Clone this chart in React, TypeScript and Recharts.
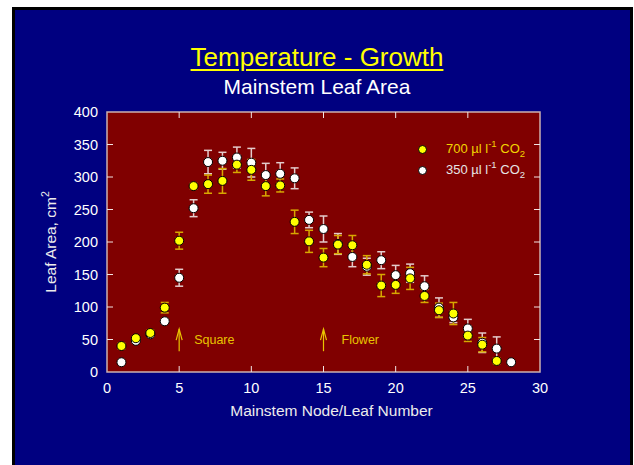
import React from 'react';
import {
  ScatterChart,
  Scatter,
  XAxis,
  YAxis,
  ErrorBar,
  ReferenceArea,
  ReferenceLine,
} from 'recharts';

// Mainstem node / leaf number
const nodes = [1, 2, 3, 4, 5, 6, 7, 8, 9, 10, 11, 12, 13, 14, 15, 16, 17, 18, 19, 20, 21, 22, 23, 24, 25, 26, 27, 28];

// Leaf area (cm²) and standard errors, 700 µl l-1 CO2
const area700 = [40, 52, 60, 99, 202, 286, 289, 294, 319, 311, 286, 287, 231, 201, 176, 196, 195, 165, 133, 134, 144, 117, 95, 90, 56, 42, 17];
const err700 = [4, 3, 4, 8, 13, 4, 14, 19, 12, 16, 15, 10, 18, 17, 14, 14, 15, 14, 17, 13, 17, 10, 11, 17, 9, 11, 4];

// Leaf area (cm²) and standard errors, 350 µl l-1 CO2
const area350 = [15, 48, 58, 78, 145, 252, 323, 325, 330, 322, 303, 305, 298, 234, 220, 197, 177, 162, 172, 149, 152, 132, 99, 84, 67, 45, 36, 15];
const err350 = [0, 3, 3, 3, 13, 13, 18, 13, 16, 22, 18, 17, 16, 12, 20, 16, 15, 13, 13, 15, 14, 16, 15, 8, 14, 15, 18, 0];

const xTicks = [0, 5, 10, 15, 20, 25, 30];
const yTicks = [0, 50, 100, 150, 200, 250, 300, 350, 400];

// Developmental stage markers
const stages = [
  { node: 5, label: 'Square', gap: 15 },
  { node: 15, label: 'Flower', gap: 18 },
];

const series = [
  { key: '350', name: '350 µl l', fill: '#ffffff', text: '#e6e6e6', errColor: '#e4cccc', values: area350, errs: err350 },
  { key: '700', name: '700 µl l', fill: '#ffff00', text: '#f2d400', errColor: '#d8a800', values: area700, errs: err700 },
];

const W = 634;
const H = 465;
const PLOT_LEFT = 107;
const PLOT_RIGHT = 540;
const PLOT_TOP = 112;
const PLOT_BOTTOM = 372;
const TICK_LEN = 6;
const FONT = '"Liberation Sans", Arial, Helvetica, sans-serif';
const TICK_COLOR = '#f0e4e4';
const GOLD = '#e8c400';

const XTick = ({ x, payload }: any) => {
  const v = payload.value;
  const inner = v > 0 && v < 30;
  return (
    <g>
      {inner && <line x1={x} x2={x} y1={PLOT_BOTTOM} y2={PLOT_BOTTOM - TICK_LEN} stroke={TICK_COLOR} />}
      {inner && <line x1={x} x2={x} y1={PLOT_TOP} y2={PLOT_TOP + TICK_LEN} stroke={TICK_COLOR} />}
      <text x={x} y={PLOT_BOTTOM + 21} textAnchor="middle" fill="#ffffff" fontSize={14.5} fontFamily={FONT}>
        {v}
      </text>
    </g>
  );
};

const YTick = ({ y, payload }: any) => {
  const v = payload.value;
  const inner = v > 0 && v < 400;
  return (
    <g>
      {inner && <line x1={PLOT_LEFT} x2={PLOT_LEFT + TICK_LEN} y1={y} y2={y} stroke={TICK_COLOR} />}
      {inner && <line x1={PLOT_RIGHT} x2={PLOT_RIGHT - TICK_LEN} y1={y} y2={y} stroke={TICK_COLOR} />}
      <text x={PLOT_LEFT - 9} y={y + 5} textAnchor="end" fill="#ffffff" fontSize={14.5} fontFamily={FONT}>
        {v}
      </text>
    </g>
  );
};

const dotShape = (fill: string) => (p: any) => (
  <circle cx={p.cx} cy={p.cy} r={4.5} fill={fill} stroke="#000000" strokeWidth={1} />
);

const stageArrow = (label: string, gap: number) => (p: any) => {
  const x = p.x1;
  const top = Math.min(p.y1, p.y2);
  const bottom = Math.max(p.y1, p.y2);
  return (
    <g>
      <line x1={x} x2={x} y1={bottom} y2={top} stroke={GOLD} strokeWidth={1.2} />
      <path d={`M${x - 3} ${top + 11} L${x} ${top} L${x + 3} ${top + 11}`} fill="none" stroke={GOLD} strokeWidth={1.2} />
      <text x={x + gap} y={(top + bottom) / 2 + 4} fill={GOLD} fontSize={12.5} fontFamily={FONT}>
        {label}
      </text>
    </g>
  );
};

const YLabel = () => (
  <text
    transform={`translate(56, ${(PLOT_TOP + PLOT_BOTTOM) / 2}) rotate(-90)`}
    textAnchor="middle"
    fill="#ececec"
    fontSize={15.5}
    fontFamily={FONT}
  >
    Leaf Area, cm
    <tspan fontSize={10.5} dy={-7}>2</tspan>
  </text>
);

export default function App() {
  const tables = series.map((s) =>
    s.values.map((v, i) => ({ node: nodes[i], area: v, err: s.errs[i] }))
  );

  return (
    <div style={{ position: 'absolute', left: 0, top: 0, width: W, height: H, background: '#ffffff', overflow: 'hidden', fontFamily: FONT }}>
      <div
        style={{
          position: 'absolute',
          left: 12,
          top: 7,
          width: 621,
          height: 462,
          boxSizing: 'border-box',
          border: '3px solid #000000',
          background: '#000080',
        }}
      />
      <div style={{ position: 'absolute', left: 0, width: W - 12, top: 42, textAlign: 'center', paddingLeft: 12, boxSizing: 'border-box' }}>
        <span style={{ color: '#ffff00', fontSize: 26, textDecoration: 'underline', textUnderlineOffset: 3, textDecorationThickness: 2 }}>
          Temperature - Growth
        </span>
      </div>
      <div style={{ position: 'absolute', left: 0, width: W - 12, top: 75, textAlign: 'center', paddingLeft: 12, boxSizing: 'border-box', color: '#ffffff', fontSize: 21 }}>
        Mainstem Leaf Area
      </div>

      <div style={{ position: 'absolute', left: 0, top: 0 }}>
        <ScatterChart width={W} height={H} margin={{ top: PLOT_TOP, right: W - PLOT_RIGHT, bottom: H - PLOT_BOTTOM - 30, left: PLOT_LEFT - 50 }}>
          <ReferenceArea x1={0} x2={30} y1={0} y2={400} fill="#800000" fillOpacity={1} stroke="#cbb0b0" strokeWidth={1.5} />
          <XAxis
            type="number"
            dataKey="node"
            domain={[0, 30]}
            ticks={xTicks}
            height={30}
            axisLine={false}
            tickLine={false}
            tickSize={0}
            tick={<XTick />}
            interval={0}
          />
          <YAxis
            type="number"
            dataKey="area"
            domain={[0, 400]}
            ticks={yTicks}
            width={50}
            axisLine={false}
            tickLine={false}
            tickSize={0}
            tick={<YTick />}
            interval={0}
            label={<YLabel />}
          />
          {stages.map((st) => (
            <ReferenceLine
              key={st.label}
              segment={[{ x: st.node, y: 32 }, { x: st.node, y: 66 }]}
              shape={stageArrow(st.label, st.gap)}
            />
          ))}
          {series.map((s, i) => (
            <Scatter key={s.key} name={s.name} data={tables[i]} shape={dotShape(s.fill)} isAnimationActive={false}>
              <ErrorBar dataKey="err" direction="y" width={4} stroke={s.errColor} strokeWidth={1.5} />
            </Scatter>
          ))}
        </ScatterChart>
      </div>

      <div style={{ position: 'absolute', left: 0, top: 0 }}>
        {[...series].reverse().map((s, i) => (
          <div key={s.key} style={{ position: 'absolute', left: 418, top: 144 + i * 21, height: 14, width: 140, whiteSpace: 'nowrap' }}>
            <div
              style={{
                position: 'absolute',
                left: 0,
                top: 1,
                width: 9,
                height: 9,
                borderRadius: '50%',
                background: s.fill,
                border: '1px solid #000',
                boxSizing: 'border-box',
              }}
            />
            <div style={{ position: 'absolute', left: 28, top: -3, color: s.text, fontSize: 13, lineHeight: '16px' }}>
              {s.name}
              <span style={{ fontSize: 9.5, position: 'relative', top: -6 }}>-1</span> CO
              <span style={{ fontSize: 9.5, position: 'relative', top: 4 }}>2</span>
            </div>
          </div>
        ))}
      </div>

      <div style={{ position: 'absolute', left: PLOT_LEFT, width: PLOT_RIGHT - PLOT_LEFT + 16, top: 402, textAlign: 'center', color: '#ececec', fontSize: 15.5 }}>
        Mainstem Node/Leaf Number
      </div>
    </div>
  );
}
